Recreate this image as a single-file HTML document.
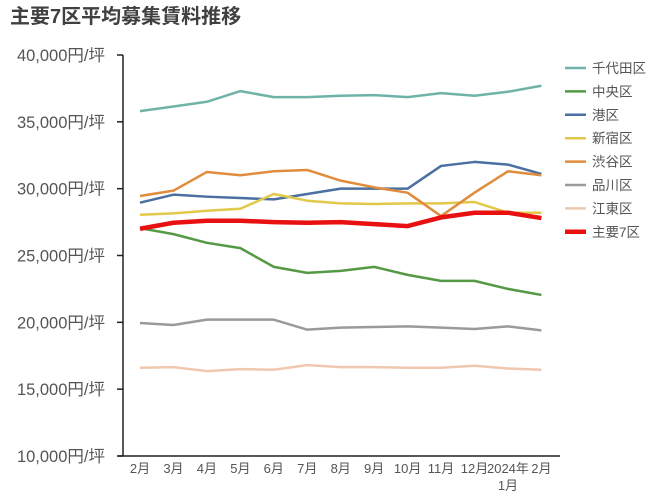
<!DOCTYPE html>
<html><head><meta charset="utf-8"><style>
body{margin:0;background:#fff;}
svg{display:block;font-family:"Liberation Sans","Noto Sans CJK JP",sans-serif;}
</style></head><body>
<svg id="chart" width="650" height="504">
<text x="10" y="23" font-size="20" font-weight="bold" fill="#404040">主要7区平均募集賃料推移</text>
<g id="axes"></g><g id="series"></g><g id="legend"></g>
</svg>
<script>
const categories=["2月","3月","4月","5月","6月","7月","8月","9月","10月","11月","12月","2024年|1月","2月"];
const yTicks=[10000,15000,20000,25000,30000,35000,40000];
const seriesNames=["千代田区","中央区","港区","新宿区","渋谷区","品川区","江東区","主要7区"];
const seriesColors=["#6fb3a8","#559944","#4a6fa0","#e2c94a","#e08c3c","#9a9a9a","#f0c8b0","#e81010"];
const chiyoda=[35800,36150,36500,37300,36850,36850,36950,37000,36850,37150,36950,37250,37700];
const chuo=[27050,26600,25950,25550,24150,23700,23850,24150,23550,23100,23100,22500,22050];
const minato=[28950,29550,29400,29300,29200,29600,30000,30000,30000,31700,32000,31800,31100];
const shinjuku=[28050,28150,28350,28500,29600,29100,28900,28850,28900,28900,29000,28200,28200];
const shibuya=[29450,29850,31250,31000,31300,31400,30600,30100,29700,27950,29700,31300,31000];
const shinagawa=[19950,19800,20200,20200,20200,19450,19600,19650,19700,19600,19500,19700,19400];
const koto=[16600,16650,16350,16500,16450,16800,16650,16650,16600,16600,16750,16550,16450];
const main7=[27000,27450,27600,27600,27500,27450,27500,27350,27200,27850,28200,28200,27800];
const allSeries=[chiyoda,chuo,minato,shinjuku,shibuya,shinagawa,koto,main7];

const NS="http://www.w3.org/2000/svg";
const x=i=>140+i*33.45;
const y=v=>456-(v-10000)/30000*401;
function mk(tag,attrs,parent){const e=document.createElementNS(NS,tag);for(const k in attrs)e.setAttribute(k,attrs[k]);parent.appendChild(e);return e;}
const axes=document.getElementById('axes');
const ya=mk('line',{x1:123,y1:y(40000),x2:123,y2:456,stroke:'#222','stroke-width':1.5},axes);


const xa=mk('line',{x1:118,y1:456,x2:560,y2:456,stroke:'#222','stroke-width':1.5},axes);


yTicks.forEach(v=>{
  const t=mk('line',{x1:117,y1:y(v),x2:123,y2:y(v),stroke:'#222','stroke-width':1.5},axes);
  
  
  const l=mk('text',{x:105,y:y(v)+6,'text-anchor':'end','font-size':16.5,fill:'#555'},axes);
  l.textContent=v.toLocaleString('en-US')+"円/坪";
  
  
});
categories.forEach((c,i)=>{
  const parts=c.split('|');
  parts.forEach((p,j)=>{
    const l=mk('text',{x:x(i),y:473+j*17,'text-anchor':'middle','font-size':13,fill:'#555'},axes);
    l.textContent=p;
    
    
  });
});
const sg=document.getElementById('series');
allSeries.forEach((s,k)=>{
  const p=mk('polyline',{points:s.map((v,i)=>x(i)+','+y(v)).join(' '),fill:'none',stroke:seriesColors[k],'stroke-width':k===7?4.5:2.5,'stroke-linejoin':'round'},sg);
  
  
});
const lg=document.getElementById('legend');
seriesNames.forEach((n,k)=>{
  const yy=68+k*23.4;
  const g=mk('g',{},lg);
  
  
  mk('line',{x1:565,y1:yy,x2:586,y2:yy,stroke:seriesColors[k],'stroke-width':k===7?4.5:2.5},g);
  const t=mk('text',{x:592,y:yy+5,'font-size':13.5,fill:'#555'},g);
  t.textContent=n;
});
</script>
</body></html>
